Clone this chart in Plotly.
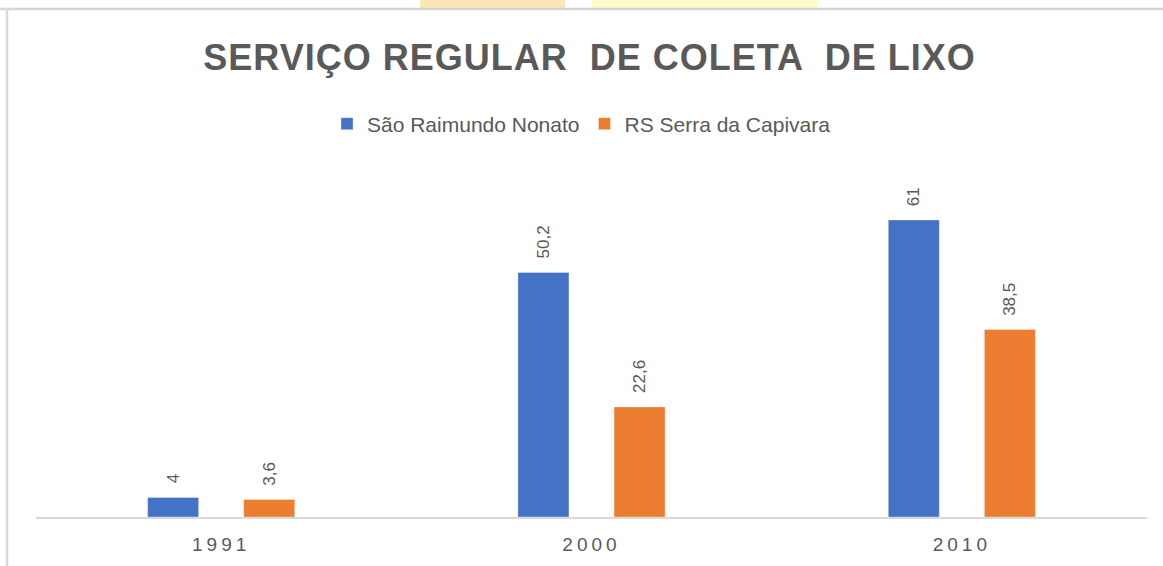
import plotly.graph_objects as go

# ---- data ----
categories = ["1991", "2000", "2010"]
series_names = ["São Raimundo Nonato", "RS Serra da Capivara"]
sao_raimundo = [4, 50.2, 61]
rs_serra = [3.6, 22.6, 38.5]
title_text = "SERVIÇO REGULAR  DE COLETA  DE LIXO"

# ---- styles ----
W, H = 1163, 566
ML, MR, MT, MB = 36, 16, 160, 49
BLUE, ORANGE = "#4472C4", "#ED7D31"
GRAY = "#595959"
BARGAP, BARGROUPGAP = 0.481, 0.469
YMAX = 73.3

def fmt(v):
    return (f"{v:g}").replace(".", ",")

fig = go.Figure()
for name, vals, col in [(series_names[0], sao_raimundo, BLUE),
                        (series_names[1], rs_serra, ORANGE)]:
    fig.add_trace(go.Bar(
        x=categories, y=vals, name=name,
        marker=dict(color=col, line=dict(color="rgba(255,255,255,0.35)", width=1)),
        hoverinfo="skip",
    ))

# data labels (rotated) placed via axis coordinates (category index on category axis)
plot_w = W - ML - MR
cat_px = plot_w / len(categories)
slot_px = cat_px * (1 - BARGAP) / 2
annotations = []
for i, vals in enumerate([sao_raimundo, rs_serra]):
    shift = (i - 0.5) * slot_px
    for j, v in enumerate(vals):
        annotations.append(dict(
            x=j, y=v, xref="x", yref="y", text=fmt(v), showarrow=False,
            textangle=-90, xanchor="center", yanchor="bottom",
            xshift=shift, yshift=12,
            font=dict(family="Liberation Sans, Arial, sans-serif", size=17, color=GRAY),
        ))

# pixel -> paper helpers for decorative frame
plot_h = H - MT - MB
def px_x(p):
    return (p - ML) / plot_w
def px_y(p):
    return (H - MB - p) / plot_h

shapes = [
    dict(type="rect", xref="paper", yref="paper", x0=px_x(420), x1=px_x(565),
         y0=px_y(9), y1=px_y(0), fillcolor="#FCE7B4", line=dict(width=0), layer="below"),
    dict(type="rect", xref="paper", yref="paper", x0=px_x(592), x1=px_x(817),
         y0=px_y(9), y1=px_y(0), fillcolor="#FFF8C8", line=dict(width=0), layer="below"),
    dict(type="line", xref="paper", yref="paper", x0=px_x(0), x1=px_x(W),
         y0=px_y(9), y1=px_y(9), line=dict(color="#D6D6D6", width=2.5)),
    dict(type="line", xref="paper", yref="paper", x0=px_x(7), x1=px_x(7),
         y0=px_y(9), y1=px_y(H), line=dict(color="#D9D9D9", width=2.5)),
]

fig.update_layout(
    width=W, height=H,
    margin=dict(l=ML, r=MR, t=MT, b=MB, pad=0, autoexpand=False),
    paper_bgcolor="white", plot_bgcolor="white",
    barmode="group", bargap=BARGAP, bargroupgap=BARGROUPGAP,
    title=dict(
        text=f'<span style="letter-spacing:1px">{title_text}</span>',
        x=0.5 - 2 / plot_w, xref="paper", xanchor="center",
        y=1 - 57 / H, yref="container", yanchor="middle",
        font=dict(family="Liberation Sans, Arial, sans-serif", size=36, color=GRAY, weight="bold"),
    ),
    legend=dict(
        orientation="h", x=0.5 - 10 / plot_w, xanchor="center", xref="paper",
        y=1 - 124 / H, yref="container", yanchor="middle",
        font=dict(family="Liberation Sans, Arial, sans-serif", size=21, color=GRAY),
        itemwidth=30, traceorder="normal",
    ),
    xaxis=dict(
        type="category", range=[-0.5, len(categories) - 0.5],
        showline=True, linecolor="#D9D9D9", linewidth=1.5,
        ticks="", showgrid=False, zeroline=False, tickangle=0,
        tickmode="array", tickvals=categories,
        ticktext=[f'<span style="letter-spacing:4px">{c}</span>' for c in categories],
        tickfont=dict(family="Liberation Sans, Arial, sans-serif", size=19, color=GRAY),
        ticklabelstandoff=9,
        automargin=False,
    ),
    yaxis=dict(visible=False, range=[0, YMAX], showgrid=False, zeroline=False),
    annotations=annotations,
    shapes=shapes,
    showlegend=True,
)

fig.write_html("out.html", config={"displayModeBar": False},
               post_script="document.body.style.margin='0';")
